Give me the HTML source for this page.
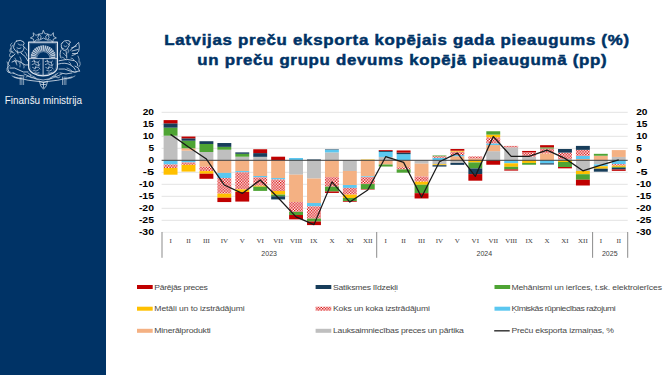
<!DOCTYPE html>
<html><head><meta charset="utf-8">
<style>
html,body{margin:0;padding:0;background:#fff;width:665px;height:375px;overflow:hidden}
svg{display:block}
.ax{font-family:"Liberation Sans",sans-serif;font-weight:bold;font-size:8.4px;fill:#000}
.mo{font-family:"Liberation Serif",serif;font-size:7px;fill:#404040}
.yr{font-family:"Liberation Sans",sans-serif;font-size:7px;fill:#404040}
.lg{font-family:"Liberation Sans",sans-serif;font-size:8px;fill:#474747}
.ti{font-family:"Liberation Sans",sans-serif;font-weight:bold;font-size:15.3px;fill:#003366;stroke:#003366;stroke-width:0.5px}
.fm{font-family:"Liberation Sans",sans-serif;font-size:10px;fill:#F2F5F9}
</style></head><body>
<svg width="665" height="375" viewBox="0 0 665 375">
<defs>
<pattern id="hatch" width="2.8" height="2.8" patternUnits="userSpaceOnUse">
<rect width="2.8" height="2.8" fill="#FFFFFF"/>
<rect x="0" y="0" width="1.4" height="1.4" fill="#DA1010"/>
<rect x="1.4" y="1.4" width="1.4" height="1.4" fill="#DA1010"/>
</pattern>
</defs>
<rect x="0" y="0" width="106" height="375" fill="#003366"/>
<g>
<polygon points="33.46,33.06 35.88,35.27 39.05,34.45 37.69,37.43 39.46,40.20 36.20,39.83 34.11,42.35 33.46,39.14 30.41,37.94 33.26,36.33" fill="none" stroke="#DDE5EF" stroke-linecap="round" stroke-linejoin="round" stroke-width="0.7"/>
<polygon points="43.40,30.60 44.81,33.66 48.16,34.05 45.68,36.34 46.34,39.65 43.40,38.00 40.46,39.65 41.12,36.34 38.64,34.05 41.99,33.66" fill="none" stroke="#DDE5EF" stroke-linecap="round" stroke-linejoin="round" stroke-width="0.7"/>
<polygon points="53.34,33.06 53.54,36.33 56.39,37.94 53.34,39.14 52.69,42.35 50.60,39.83 47.34,40.20 49.11,37.43 47.75,34.45 50.92,35.27" fill="none" stroke="#DDE5EF" stroke-linecap="round" stroke-linejoin="round" stroke-width="0.7"/>
<path d="M28.6,42.2 L57.4,42.2 L57.4,66.5 C57.4,72 50.5,75.8 43,75.8 C35.5,75.8 28.6,72 28.6,66.5 Z" fill="none" stroke="#DDE5EF" stroke-linecap="round" stroke-linejoin="round" stroke-width="1.25"/>
<path d="M30.0,43.6 L56.0,43.6 L56.0,66.5 C56.0,71 50,74.4 43,74.4 C36,74.4 30.0,71 30.0,66.5 Z" fill="none" stroke="#DDE5EF" stroke-linecap="round" stroke-linejoin="round" stroke-width="0.4" opacity="0.6"/>
<path d="M28.6,58.6 L57.4,58.6 M43.1,58.6 L43.1,75.5" fill="none" stroke="#DDE5EF" stroke-linecap="round" stroke-linejoin="round" stroke-width="0.8"/>
<polygon points="36.10,58.14 30.80,58.01 30.80,56.20 36.19,57.13" fill="#DDE5EF" opacity="0.85"/>
<polygon points="36.25,56.82 30.80,55.63 31.08,53.87 36.53,55.85" fill="#DDE5EF" opacity="0.85"/>
<polygon points="36.65,55.55 31.28,53.34 32.10,51.70 37.10,54.65" fill="#DDE5EF" opacity="0.85"/>
<polygon points="37.26,54.37 32.40,51.21 33.50,49.76 37.87,53.57" fill="#DDE5EF" opacity="0.85"/>
<polygon points="38.09,53.33 33.89,49.33 35.24,48.10 38.83,52.65" fill="#DDE5EF" opacity="0.85"/>
<polygon points="39.09,52.46 35.70,47.75 37.25,46.79 39.95,51.93" fill="#DDE5EF" opacity="0.85"/>
<polygon points="40.23,51.79 37.76,46.54 39.47,45.88 41.18,51.42" fill="#DDE5EF" opacity="0.85"/>
<polygon points="41.48,51.33 40.02,45.72 41.81,45.39 42.48,51.15" fill="#DDE5EF" opacity="0.85"/>
<polygon points="42.79,51.12 42.39,45.33 44.21,45.33 43.81,51.12" fill="#DDE5EF" opacity="0.85"/>
<polygon points="44.12,51.15 44.79,45.39 46.58,45.72 45.12,51.33" fill="#DDE5EF" opacity="0.85"/>
<polygon points="45.42,51.42 47.13,45.88 48.84,46.54 46.37,51.79" fill="#DDE5EF" opacity="0.85"/>
<polygon points="46.65,51.93 49.35,46.79 50.90,47.75 47.51,52.46" fill="#DDE5EF" opacity="0.85"/>
<polygon points="47.77,52.65 51.36,48.10 52.71,49.33 48.51,53.33" fill="#DDE5EF" opacity="0.85"/>
<polygon points="48.73,53.57 53.10,49.76 54.20,51.21 49.34,54.37" fill="#DDE5EF" opacity="0.85"/>
<polygon points="49.50,54.65 54.50,51.70 55.30,53.34 49.95,55.55" fill="#DDE5EF" opacity="0.85"/>
<polygon points="50.07,55.85 55.30,53.87 55.30,55.63 50.35,56.82" fill="#DDE5EF" opacity="0.85"/>
<polygon points="50.41,57.13 55.30,56.20 55.30,58.01 50.50,58.14" fill="#DDE5EF" opacity="0.85"/>
<path d="M36.6,58.3 A6.7,6.7 0 0 1 50,58.3" fill="none" stroke="#DDE5EF" stroke-linecap="round" stroke-linejoin="round" stroke-width="0.5"/>
<path d="M32,61.5 q2,-1.5 4,0.5 q2,1.5 3.5,-1 M32,64.5 q2.5,-2 5,0.5 q1.5,1.5 3,-0.5 M32.5,67.5 q2,1.8 4,0 q2,-1.8 3.5,1.5 M33.5,70.5 q2.5,1.8 5,-0.5 M35,73 q2,0.8 4,-0.3 M34,60 l1,3 M38,62 l1,4 M36,66 l-1,3" fill="none" stroke="#DDE5EF" stroke-linecap="round" stroke-linejoin="round" stroke-width="0.65"/>
<path d="M45.2,61.5 q2,-1.5 4,0.5 q2,1.5 3.5,-1 M45.2,64.5 q2.5,-2 5,0.5 q1.5,1.5 3,-0.5 M45.7,67.5 q2,1.8 4,0 q2,-1.8 3.5,1.5 M46.7,70.5 q2.5,1.8 5,-0.5 M48.2,73 q2,0.8 4,-0.3 M47.2,60 l1,3 M51.2,62 l1,4 M49.2,66 l-1,3" fill="none" stroke="#DDE5EF" stroke-linecap="round" stroke-linejoin="round" stroke-width="0.65"/>
<path d="M16.5,41 q4,-1.8 7,0.8 q1.5,2 -0.5,3.5 q2,2 0.5,4.5 q-1,3 -4,2.5 q-3,0.5 -4.5,-2 q-2.5,-2.5 -1,-5 q0.5,-3 2.5,-4.3 z" fill="none" stroke="#DDE5EF" stroke-linecap="round" stroke-linejoin="round" stroke-width="0.8"/>
<path d="M13,45 q-3,2 -2,6 q1,2 3,2 M18,44 q2,2 4,1 M17,48 q2,1.5 4,0 M17,50 l1,4" fill="none" stroke="#DDE5EF" stroke-linecap="round" stroke-linejoin="round" stroke-width="0.65"/>
<path d="M15,54 Q9,58 8,64 Q7,70 10,73 M21,53 q5,3 7,8 M12,62 q5,-3 10,1 q3,3 6,2 M10,68 q5,-1 9,2 q4,3 9,2 M13,73 q5,3 11,3" fill="none" stroke="#DDE5EF" stroke-linecap="round" stroke-linejoin="round" stroke-width="0.8"/>
<path d="M9,66 q-3,2 -2,5 q1,2 3,1 M15,58 q2,2 1,5 M20,57 q2,3 1,6 M23,64 q2,2 1,4" fill="none" stroke="#DDE5EF" stroke-linecap="round" stroke-linejoin="round" stroke-width="0.6"/>
<path d="M62,43 q2,-3 5.5,-2.5 q2.5,0 3,2 l-1.5,1 q1,2 -1,4 q-1,3 -4,3 q-2.5,-1 -2.5,-4 q-1,-2 0.5,-3.5 z" fill="none" stroke="#DDE5EF" stroke-linecap="round" stroke-linejoin="round" stroke-width="0.8"/>
<path d="M70,50.5 Q74,47 78.7,42.4 Q80,47 78.7,51.4 Q76,55 72,55.6 M71.5,48 l5,-2 M72,51 l6,-1.5 M72.5,53.5 l5,0" fill="none" stroke="#DDE5EF" stroke-linecap="round" stroke-linejoin="round" stroke-width="0.75"/>
<path d="M61,50 Q59,55 61,58 M66,51 q1,4 0.8,7 M59,60.7 Q67,58 74.5,60.7 Q78,62 77.9,65.9 M58.5,64 q7,-2 12,1 q4,2 5,5 M59,69 q6,-1 11,2 q4,2 9.6,0 M60,73 q6,2 12,0 M75,66 q4,1 4.6,5" fill="none" stroke="#DDE5EF" stroke-linecap="round" stroke-linejoin="round" stroke-width="0.8"/>
<path d="M64,46 q1.5,1.5 3,0 M63,53 q2,1 3,3 M69,62 q2,1 2,3" fill="none" stroke="#DDE5EF" stroke-linecap="round" stroke-linejoin="round" stroke-width="0.6"/>
<path d="M14,77 Q28,81 43.1,82 Q58,81 72,77" fill="none" stroke="#DDE5EF" stroke-linecap="round" stroke-linejoin="round" stroke-width="0.8"/>
<path d="M24,74 Q34,79.5 43.1,80 Q52,79.5 62,74" fill="none" stroke="#DDE5EF" stroke-linecap="round" stroke-linejoin="round" stroke-width="0.7"/>
<path d="M26,77 q2,-2 4,0 q2,2 4,0 M52,77 q2,-2 4,0 q2,2 4,0 M28,73 q2,1 3,3 M58,73 q-2,1 -3,3" fill="none" stroke="#DDE5EF" stroke-linecap="round" stroke-linejoin="round" stroke-width="0.65"/>
<path d="M20.2,77 L20.2,84.6 M21.9,77 L21.9,84.6 M23.6,77 L23.6,84.6 M62.5,77 L62.5,84.6 M64.2,77 L64.2,84.6 M65.9,77 L65.9,84.6" fill="none" stroke="#DDE5EF" stroke-linecap="round" stroke-linejoin="round" stroke-width="0.6"/>
<path d="M39.5,81.5 Q43.5,84 47.5,81.5 Q47,86.5 43.5,89.2 Q40,86.5 39.5,81.5 Z M41.5,84.5 l4,0 M43.5,82.5 l0,5" fill="none" stroke="#DDE5EF" stroke-linecap="round" stroke-linejoin="round" stroke-width="0.75"/>
<path d="M11,48 q-2,2 -1,4 q2,1 3,-1 M10.5,53 q-2,2 -0.5,4 q2,0.5 2.5,-1.5 M12,43 q-2,1 -1.5,3 M24,47 q2,1 3,3 M25,52 q2,2 2,4 M14,60 q3,2 3,5 M19,62 q2,2 1,5 M7,62 q1,3 3,4 M8,72 q3,2 6,1" fill="none" stroke="#DDE5EF" stroke-linecap="round" stroke-linejoin="round" stroke-width="0.6"/>
<path d="M66,42 q2,1 3,3 M61,47 q1,2 3,2 M68,49 q1,2 0,4 M62,57 q3,1 4,3 M71,58 q2,0 3,2 M78,56 q2,3 1,6 M80,62 q1,3 -1,5 M67,68 q3,1 5,3 M73,72 q2,1 4,0" fill="none" stroke="#DDE5EF" stroke-linecap="round" stroke-linejoin="round" stroke-width="0.6"/>
<path d="M12,76 q4,3 9,3 M66,79 q5,0 9,-3 M30,74 q3,3 6,4 M56,74 q-3,3 -6,4 M34,78 q3,2 5,2 M52,78 q-3,2 -5,2" fill="none" stroke="#DDE5EF" stroke-linecap="round" stroke-linejoin="round" stroke-width="0.6"/>
</g>
<text x="4.8" y="103.6" class="fm" textLength="77.3" lengthAdjust="spacingAndGlyphs">Finanšu ministrija</text>
<g transform="translate(164.2,45.2) scale(1.1,1)"><text x="0" y="0" class="ti" textLength="422.55" lengthAdjust="spacing">Latvijas preču eksporta kopējais gada pieaugums (%)</text></g>
<g transform="translate(197.3,64.6) scale(1.1,1)"><text x="0" y="0" class="ti" textLength="372.09" lengthAdjust="spacing">un preču grupu devums kopējā pieaugumā (pp)</text></g>
<rect x="161.60" y="111.80" width="466.10" height="1" fill="#E3E3E3"/>
<rect x="161.60" y="123.80" width="466.10" height="1" fill="#E3E3E3"/>
<rect x="161.60" y="135.80" width="466.10" height="1" fill="#E3E3E3"/>
<rect x="161.60" y="147.80" width="466.10" height="1" fill="#E3E3E3"/>
<rect x="161.60" y="171.80" width="466.10" height="1" fill="#E3E3E3"/>
<rect x="161.60" y="183.80" width="466.10" height="1" fill="#E3E3E3"/>
<rect x="161.60" y="195.80" width="466.10" height="1" fill="#E3E3E3"/>
<rect x="161.60" y="207.80" width="466.10" height="1" fill="#E3E3E3"/>
<rect x="161.60" y="219.80" width="466.10" height="1" fill="#E3E3E3"/>
<rect x="161.60" y="231.80" width="466.10" height="1" fill="#EEEEEE"/>
<rect x="163.61" y="135.70" width="13.90" height="24.60" fill="#BFBFBF"/>
<rect x="163.61" y="160.30" width="13.90" height="4.20" fill="#5BC7F0"/>
<rect x="163.61" y="164.50" width="13.90" height="3.48" fill="url(#hatch)"/>
<rect x="163.61" y="167.98" width="13.90" height="6.72" fill="#FFC000"/>
<rect x="163.61" y="127.66" width="13.90" height="8.04" fill="#4EA434"/>
<rect x="163.61" y="123.34" width="13.90" height="4.32" fill="#173D5A"/>
<rect x="163.61" y="120.10" width="13.90" height="3.24" fill="#C00000"/>
<rect x="181.54" y="150.70" width="13.90" height="9.60" fill="#BFBFBF"/>
<rect x="181.54" y="148.30" width="13.90" height="2.40" fill="#F4B183"/>
<rect x="181.54" y="160.30" width="13.90" height="2.16" fill="#5BC7F0"/>
<rect x="181.54" y="162.46" width="13.90" height="2.40" fill="url(#hatch)"/>
<rect x="181.54" y="164.86" width="13.90" height="6.72" fill="#FFC000"/>
<rect x="181.54" y="140.74" width="13.90" height="7.56" fill="#4EA434"/>
<rect x="181.54" y="138.34" width="13.90" height="2.40" fill="#173D5A"/>
<rect x="181.54" y="136.54" width="13.90" height="1.80" fill="#C00000"/>
<rect x="199.47" y="152.02" width="13.90" height="8.28" fill="#BFBFBF"/>
<rect x="199.47" y="160.30" width="13.90" height="6.48" fill="#F4B183"/>
<rect x="199.47" y="166.78" width="13.90" height="4.32" fill="url(#hatch)"/>
<rect x="199.47" y="171.10" width="13.90" height="2.64" fill="#FFC000"/>
<rect x="199.47" y="143.98" width="13.90" height="8.04" fill="#4EA434"/>
<rect x="199.47" y="141.22" width="13.90" height="2.76" fill="#173D5A"/>
<rect x="199.47" y="173.74" width="13.90" height="5.04" fill="#C00000"/>
<rect x="217.39" y="149.74" width="13.90" height="10.56" fill="#BFBFBF"/>
<rect x="217.39" y="160.30" width="13.90" height="12.60" fill="#F4B183"/>
<rect x="217.39" y="172.90" width="13.90" height="5.16" fill="#5BC7F0"/>
<rect x="217.39" y="178.06" width="13.90" height="15.60" fill="url(#hatch)"/>
<rect x="217.39" y="193.66" width="13.90" height="4.08" fill="#FFC000"/>
<rect x="217.39" y="146.86" width="13.90" height="2.88" fill="#4EA434"/>
<rect x="217.39" y="143.02" width="13.90" height="3.84" fill="#173D5A"/>
<rect x="217.39" y="197.74" width="13.90" height="4.32" fill="#C00000"/>
<rect x="235.32" y="156.70" width="13.90" height="3.60" fill="#BFBFBF"/>
<rect x="235.32" y="160.30" width="13.90" height="10.80" fill="#F4B183"/>
<rect x="235.32" y="171.10" width="13.90" height="1.20" fill="#5BC7F0"/>
<rect x="235.32" y="172.30" width="13.90" height="17.04" fill="url(#hatch)"/>
<rect x="235.32" y="189.34" width="13.90" height="2.64" fill="#FFC000"/>
<rect x="235.32" y="153.82" width="13.90" height="2.88" fill="#4EA434"/>
<rect x="235.32" y="152.38" width="13.90" height="1.44" fill="#173D5A"/>
<rect x="235.32" y="191.98" width="13.90" height="9.60" fill="#C00000"/>
<rect x="253.25" y="156.82" width="13.90" height="3.48" fill="#BFBFBF"/>
<rect x="253.25" y="160.30" width="13.90" height="15.72" fill="#F4B183"/>
<rect x="253.25" y="176.02" width="13.90" height="1.32" fill="#5BC7F0"/>
<rect x="253.25" y="177.34" width="13.90" height="8.40" fill="url(#hatch)"/>
<rect x="253.25" y="185.74" width="13.90" height="0.96" fill="#FFC000"/>
<rect x="253.25" y="186.70" width="13.90" height="4.20" fill="#4EA434"/>
<rect x="253.25" y="153.10" width="13.90" height="3.72" fill="#173D5A"/>
<rect x="253.25" y="149.26" width="13.90" height="3.84" fill="#C00000"/>
<rect x="271.18" y="160.30" width="13.90" height="17.76" fill="#F4B183"/>
<rect x="271.18" y="178.06" width="13.90" height="1.44" fill="#5BC7F0"/>
<rect x="271.18" y="179.50" width="13.90" height="11.52" fill="url(#hatch)"/>
<rect x="271.18" y="191.02" width="13.90" height="3.60" fill="#FFC000"/>
<rect x="271.18" y="194.62" width="13.90" height="1.68" fill="#4EA434"/>
<rect x="271.18" y="196.30" width="13.90" height="3.12" fill="#173D5A"/>
<rect x="271.18" y="156.70" width="13.90" height="3.60" fill="#C00000"/>
<rect x="289.10" y="160.30" width="13.90" height="14.40" fill="#BFBFBF"/>
<rect x="289.10" y="174.70" width="13.90" height="27.36" fill="#F4B183"/>
<rect x="289.10" y="158.02" width="13.90" height="2.28" fill="#5BC7F0"/>
<rect x="289.10" y="202.06" width="13.90" height="9.84" fill="url(#hatch)"/>
<rect x="289.10" y="211.90" width="13.90" height="3.12" fill="#4EA434"/>
<rect x="289.10" y="215.02" width="13.90" height="4.32" fill="#C00000"/>
<rect x="307.03" y="160.30" width="13.90" height="18.24" fill="#BFBFBF"/>
<rect x="307.03" y="178.54" width="13.90" height="24.48" fill="#F4B183"/>
<rect x="307.03" y="203.02" width="13.90" height="3.36" fill="#5BC7F0"/>
<rect x="307.03" y="206.38" width="13.90" height="12.24" fill="url(#hatch)"/>
<rect x="307.03" y="218.62" width="13.90" height="2.88" fill="#4EA434"/>
<rect x="307.03" y="159.46" width="13.90" height="0.84" fill="#173D5A"/>
<rect x="307.03" y="221.50" width="13.90" height="3.60" fill="#C00000"/>
<rect x="324.96" y="152.38" width="13.90" height="7.92" fill="#BFBFBF"/>
<rect x="324.96" y="160.30" width="13.90" height="16.80" fill="#F4B183"/>
<rect x="324.96" y="149.74" width="13.90" height="2.64" fill="#5BC7F0"/>
<rect x="324.96" y="177.10" width="13.90" height="9.60" fill="url(#hatch)"/>
<rect x="324.96" y="186.70" width="13.90" height="4.80" fill="#4EA434"/>
<rect x="324.96" y="149.26" width="13.90" height="0.48" fill="#173D5A"/>
<rect x="324.96" y="191.50" width="13.90" height="1.44" fill="#C00000"/>
<rect x="342.88" y="160.30" width="13.90" height="10.68" fill="#BFBFBF"/>
<rect x="342.88" y="170.98" width="13.90" height="14.04" fill="#F4B183"/>
<rect x="342.88" y="185.02" width="13.90" height="2.88" fill="#5BC7F0"/>
<rect x="342.88" y="187.90" width="13.90" height="6.72" fill="url(#hatch)"/>
<rect x="342.88" y="194.62" width="13.90" height="3.36" fill="#FFC000"/>
<rect x="342.88" y="197.98" width="13.90" height="3.12" fill="#4EA434"/>
<rect x="342.88" y="201.10" width="13.90" height="0.72" fill="#C00000"/>
<rect x="360.81" y="160.30" width="13.90" height="16.08" fill="#F4B183"/>
<rect x="360.81" y="176.38" width="13.90" height="0.72" fill="#5BC7F0"/>
<rect x="360.81" y="177.10" width="13.90" height="6.96" fill="url(#hatch)"/>
<rect x="360.81" y="159.58" width="13.90" height="0.72" fill="#FFC000"/>
<rect x="360.81" y="184.06" width="13.90" height="5.04" fill="#4EA434"/>
<rect x="360.81" y="189.10" width="13.90" height="0.48" fill="#C00000"/>
<rect x="378.74" y="156.94" width="13.90" height="3.36" fill="#BFBFBF"/>
<rect x="378.74" y="160.30" width="13.90" height="4.20" fill="#F4B183"/>
<rect x="378.74" y="151.90" width="13.90" height="5.04" fill="#5BC7F0"/>
<rect x="378.74" y="164.50" width="13.90" height="2.04" fill="#4EA434"/>
<rect x="378.74" y="150.94" width="13.90" height="0.96" fill="#173D5A"/>
<rect x="378.74" y="150.10" width="13.90" height="0.84" fill="#C00000"/>
<rect x="396.66" y="160.30" width="13.90" height="6.96" fill="#F4B183"/>
<rect x="396.66" y="154.18" width="13.90" height="6.12" fill="#5BC7F0"/>
<rect x="396.66" y="167.26" width="13.90" height="2.16" fill="url(#hatch)"/>
<rect x="396.66" y="169.42" width="13.90" height="3.24" fill="#4EA434"/>
<rect x="396.66" y="152.62" width="13.90" height="1.56" fill="#173D5A"/>
<rect x="396.66" y="150.46" width="13.90" height="2.16" fill="#C00000"/>
<rect x="414.59" y="160.30" width="13.90" height="3.36" fill="#BFBFBF"/>
<rect x="414.59" y="163.66" width="13.90" height="12.84" fill="#F4B183"/>
<rect x="414.59" y="176.50" width="13.90" height="5.16" fill="url(#hatch)"/>
<rect x="414.59" y="181.66" width="13.90" height="3.12" fill="#FFC000"/>
<rect x="414.59" y="184.78" width="13.90" height="8.40" fill="#4EA434"/>
<rect x="414.59" y="193.18" width="13.90" height="5.28" fill="#C00000"/>
<rect x="432.52" y="160.30" width="13.90" height="3.96" fill="#BFBFBF"/>
<rect x="432.52" y="157.78" width="13.90" height="2.52" fill="#5BC7F0"/>
<rect x="432.52" y="156.22" width="13.90" height="1.56" fill="url(#hatch)"/>
<rect x="432.52" y="164.26" width="13.90" height="0.96" fill="#FFC000"/>
<rect x="432.52" y="155.50" width="13.90" height="0.72" fill="#4EA434"/>
<rect x="432.52" y="165.22" width="13.90" height="1.32" fill="#173D5A"/>
<rect x="450.44" y="160.30" width="13.90" height="2.64" fill="#BFBFBF"/>
<rect x="450.44" y="156.22" width="13.90" height="4.08" fill="#F4B183"/>
<rect x="450.44" y="155.02" width="13.90" height="1.20" fill="#5BC7F0"/>
<rect x="450.44" y="151.54" width="13.90" height="3.48" fill="url(#hatch)"/>
<rect x="450.44" y="150.70" width="13.90" height="0.84" fill="#FFC000"/>
<rect x="450.44" y="162.94" width="13.90" height="1.92" fill="#173D5A"/>
<rect x="450.44" y="149.02" width="13.90" height="1.68" fill="#C00000"/>
<rect x="468.37" y="158.50" width="13.90" height="1.80" fill="#F4B183"/>
<rect x="468.37" y="156.46" width="13.90" height="2.04" fill="url(#hatch)"/>
<rect x="468.37" y="160.30" width="13.90" height="2.16" fill="#FFC000"/>
<rect x="468.37" y="162.46" width="13.90" height="6.00" fill="#4EA434"/>
<rect x="468.37" y="168.46" width="13.90" height="5.64" fill="#173D5A"/>
<rect x="468.37" y="174.10" width="13.90" height="6.60" fill="#C00000"/>
<rect x="486.30" y="151.18" width="13.90" height="9.12" fill="#BFBFBF"/>
<rect x="486.30" y="145.06" width="13.90" height="6.12" fill="#F4B183"/>
<rect x="486.30" y="143.38" width="13.90" height="1.68" fill="#5BC7F0"/>
<rect x="486.30" y="137.26" width="13.90" height="6.12" fill="url(#hatch)"/>
<rect x="486.30" y="134.62" width="13.90" height="2.64" fill="#FFC000"/>
<rect x="486.30" y="131.26" width="13.90" height="3.36" fill="#4EA434"/>
<rect x="486.30" y="160.30" width="13.90" height="4.44" fill="#C00000"/>
<rect x="504.23" y="147.34" width="13.90" height="12.96" fill="#BFBFBF"/>
<rect x="504.23" y="160.30" width="13.90" height="3.00" fill="#5BC7F0"/>
<rect x="504.23" y="145.90" width="13.90" height="1.44" fill="url(#hatch)"/>
<rect x="504.23" y="163.30" width="13.90" height="3.48" fill="#FFC000"/>
<rect x="504.23" y="166.78" width="13.90" height="2.64" fill="#4EA434"/>
<rect x="504.23" y="169.42" width="13.90" height="1.20" fill="#C00000"/>
<rect x="522.15" y="156.58" width="13.90" height="3.72" fill="#BFBFBF"/>
<rect x="522.15" y="152.38" width="13.90" height="4.20" fill="url(#hatch)"/>
<rect x="522.15" y="160.30" width="13.90" height="2.64" fill="#FFC000"/>
<rect x="522.15" y="162.94" width="13.90" height="1.80" fill="#4EA434"/>
<rect x="522.15" y="150.94" width="13.90" height="1.44" fill="#C00000"/>
<rect x="540.08" y="153.34" width="13.90" height="6.96" fill="#F4B183"/>
<rect x="540.08" y="160.30" width="13.90" height="3.00" fill="#5BC7F0"/>
<rect x="540.08" y="148.54" width="13.90" height="4.80" fill="url(#hatch)"/>
<rect x="540.08" y="147.34" width="13.90" height="1.20" fill="#4EA434"/>
<rect x="540.08" y="163.30" width="13.90" height="1.20" fill="#173D5A"/>
<rect x="540.08" y="145.18" width="13.90" height="2.16" fill="#C00000"/>
<rect x="558.01" y="158.98" width="13.90" height="1.32" fill="#BFBFBF"/>
<rect x="558.01" y="152.62" width="13.90" height="6.36" fill="url(#hatch)"/>
<rect x="558.01" y="160.30" width="13.90" height="1.68" fill="#FFC000"/>
<rect x="558.01" y="161.98" width="13.90" height="5.04" fill="#4EA434"/>
<rect x="558.01" y="149.02" width="13.90" height="3.60" fill="#173D5A"/>
<rect x="558.01" y="167.02" width="13.90" height="1.32" fill="#C00000"/>
<rect x="575.93" y="160.30" width="13.90" height="10.68" fill="#BFBFBF"/>
<rect x="575.93" y="158.98" width="13.90" height="1.32" fill="#F4B183"/>
<rect x="575.93" y="155.86" width="13.90" height="3.12" fill="#5BC7F0"/>
<rect x="575.93" y="149.86" width="13.90" height="6.00" fill="url(#hatch)"/>
<rect x="575.93" y="170.98" width="13.90" height="3.24" fill="#FFC000"/>
<rect x="575.93" y="174.22" width="13.90" height="5.52" fill="#4EA434"/>
<rect x="575.93" y="145.90" width="13.90" height="3.96" fill="#173D5A"/>
<rect x="575.93" y="179.74" width="13.90" height="5.76" fill="#C00000"/>
<rect x="593.86" y="160.30" width="13.90" height="4.08" fill="#BFBFBF"/>
<rect x="593.86" y="155.74" width="13.90" height="4.56" fill="#F4B183"/>
<rect x="593.86" y="164.38" width="13.90" height="1.92" fill="#5BC7F0"/>
<rect x="593.86" y="166.30" width="13.90" height="2.40" fill="#FFC000"/>
<rect x="593.86" y="153.82" width="13.90" height="1.92" fill="#4EA434"/>
<rect x="593.86" y="168.70" width="13.90" height="3.00" fill="#173D5A"/>
<rect x="611.79" y="156.94" width="13.90" height="3.36" fill="#BFBFBF"/>
<rect x="611.79" y="150.10" width="13.90" height="6.84" fill="#F4B183"/>
<rect x="611.79" y="160.30" width="13.90" height="3.84" fill="#5BC7F0"/>
<rect x="611.79" y="164.14" width="13.90" height="1.56" fill="url(#hatch)"/>
<rect x="611.79" y="165.70" width="13.90" height="1.20" fill="#FFC000"/>
<rect x="611.79" y="166.90" width="13.90" height="0.84" fill="#4EA434"/>
<rect x="611.79" y="167.74" width="13.90" height="1.68" fill="#173D5A"/>
<rect x="611.79" y="169.42" width="13.90" height="1.44" fill="#C00000"/>
<rect x="161.60" y="159.80" width="466.10" height="1" fill="#404040"/>
<polyline points="170.56,134.38 188.49,147.10 206.42,159.10 224.34,185.02 242.27,193.42 260.20,179.98 278.12,197.74 296.05,216.94 313.98,224.62 331.91,181.90 349.83,202.06 367.76,190.06 385.69,156.70 403.61,162.34 421.54,197.26 439.47,161.74 457.39,153.10 475.32,176.38 493.25,136.54 511.18,156.34 529.10,156.46 547.03,150.10 564.96,158.38 582.88,170.86 600.81,165.10 618.74,159.82" fill="none" stroke="#1A1A1A" stroke-width="1.25" stroke-linejoin="round"/>
<rect x="161.50" y="232" width="1" height="25.8" fill="#8C8C8C"/>
<rect x="376.20" y="232" width="1" height="25.8" fill="#8C8C8C"/>
<rect x="592.10" y="232" width="1" height="25.8" fill="#8C8C8C"/>
<rect x="627.20" y="232" width="1" height="25.8" fill="#8C8C8C"/>
<text x="154" y="115.30" text-anchor="end" class="ax" textLength="11.3" lengthAdjust="spacingAndGlyphs">20</text>
<text x="636.2" y="115.30" class="ax" textLength="11.3" lengthAdjust="spacingAndGlyphs">20</text>
<text x="154" y="127.30" text-anchor="end" class="ax" textLength="11.3" lengthAdjust="spacingAndGlyphs">15</text>
<text x="636.2" y="127.30" class="ax" textLength="11.3" lengthAdjust="spacingAndGlyphs">15</text>
<text x="154" y="139.30" text-anchor="end" class="ax" textLength="11.3" lengthAdjust="spacingAndGlyphs">10</text>
<text x="636.2" y="139.30" class="ax" textLength="11.3" lengthAdjust="spacingAndGlyphs">10</text>
<text x="154" y="151.30" text-anchor="end" class="ax" textLength="5.6" lengthAdjust="spacingAndGlyphs">5</text>
<text x="636.2" y="151.30" class="ax" textLength="5.6" lengthAdjust="spacingAndGlyphs">5</text>
<text x="154" y="163.30" text-anchor="end" class="ax" textLength="5.6" lengthAdjust="spacingAndGlyphs">0</text>
<text x="636.2" y="163.30" class="ax" textLength="5.6" lengthAdjust="spacingAndGlyphs">0</text>
<text x="154" y="175.30" text-anchor="end" class="ax" textLength="11.3" lengthAdjust="spacingAndGlyphs">-5</text>
<text x="636.2" y="175.30" class="ax" textLength="11.3" lengthAdjust="spacingAndGlyphs">-5</text>
<text x="154" y="187.30" text-anchor="end" class="ax" textLength="15.1" lengthAdjust="spacingAndGlyphs">-10</text>
<text x="636.2" y="187.30" class="ax" textLength="15.1" lengthAdjust="spacingAndGlyphs">-10</text>
<text x="154" y="199.30" text-anchor="end" class="ax" textLength="15.1" lengthAdjust="spacingAndGlyphs">-15</text>
<text x="636.2" y="199.30" class="ax" textLength="15.1" lengthAdjust="spacingAndGlyphs">-15</text>
<text x="154" y="211.30" text-anchor="end" class="ax" textLength="15.1" lengthAdjust="spacingAndGlyphs">-20</text>
<text x="636.2" y="211.30" class="ax" textLength="15.1" lengthAdjust="spacingAndGlyphs">-20</text>
<text x="154" y="223.30" text-anchor="end" class="ax" textLength="15.1" lengthAdjust="spacingAndGlyphs">-25</text>
<text x="636.2" y="223.30" class="ax" textLength="15.1" lengthAdjust="spacingAndGlyphs">-25</text>
<text x="154" y="235.30" text-anchor="end" class="ax" textLength="15.1" lengthAdjust="spacingAndGlyphs">-30</text>
<text x="636.2" y="235.30" class="ax" textLength="15.1" lengthAdjust="spacingAndGlyphs">-30</text>
<text x="170.56" y="243.3" text-anchor="middle" class="mo">I</text>
<text x="188.49" y="243.3" text-anchor="middle" class="mo">II</text>
<text x="206.42" y="243.3" text-anchor="middle" class="mo">III</text>
<text x="224.34" y="243.3" text-anchor="middle" class="mo">IV</text>
<text x="242.27" y="243.3" text-anchor="middle" class="mo">V</text>
<text x="260.20" y="243.3" text-anchor="middle" class="mo">VI</text>
<text x="278.12" y="243.3" text-anchor="middle" class="mo">VII</text>
<text x="296.05" y="243.3" text-anchor="middle" class="mo">VIII</text>
<text x="313.98" y="243.3" text-anchor="middle" class="mo">IX</text>
<text x="331.91" y="243.3" text-anchor="middle" class="mo">X</text>
<text x="349.83" y="243.3" text-anchor="middle" class="mo">XI</text>
<text x="367.76" y="243.3" text-anchor="middle" class="mo">XII</text>
<text x="385.69" y="243.3" text-anchor="middle" class="mo">I</text>
<text x="403.61" y="243.3" text-anchor="middle" class="mo">II</text>
<text x="421.54" y="243.3" text-anchor="middle" class="mo">III</text>
<text x="439.47" y="243.3" text-anchor="middle" class="mo">IV</text>
<text x="457.39" y="243.3" text-anchor="middle" class="mo">V</text>
<text x="475.32" y="243.3" text-anchor="middle" class="mo">VI</text>
<text x="493.25" y="243.3" text-anchor="middle" class="mo">VII</text>
<text x="511.18" y="243.3" text-anchor="middle" class="mo">VIII</text>
<text x="529.10" y="243.3" text-anchor="middle" class="mo">IX</text>
<text x="547.03" y="243.3" text-anchor="middle" class="mo">X</text>
<text x="564.96" y="243.3" text-anchor="middle" class="mo">XI</text>
<text x="582.88" y="243.3" text-anchor="middle" class="mo">XII</text>
<text x="600.81" y="243.3" text-anchor="middle" class="mo">I</text>
<text x="618.74" y="243.3" text-anchor="middle" class="mo">II</text>
<text x="269.16" y="256" text-anchor="middle" class="yr">2023</text>
<text x="484.28" y="256" text-anchor="middle" class="yr">2024</text>
<text x="609.77" y="256" text-anchor="middle" class="yr">2025</text>
<rect x="137" y="285" width="15.7" height="4" fill="#C00000"/>
<g transform="translate(154.3,289.5) scale(1.08,1)"><text x="0" y="0" class="lg" textLength="49.54" lengthAdjust="spacing">Pārējās preces</text></g>
<rect x="315.6" y="285" width="15.7" height="4" fill="#173D5A"/>
<g transform="translate(333,289.5) scale(1.08,1)"><text x="0" y="0" class="lg" textLength="60.19" lengthAdjust="spacing">Satiksmes līdzekļi</text></g>
<rect x="494.5" y="285" width="15.7" height="4" fill="#4EA434"/>
<g transform="translate(511.4,289.5) scale(1.08,1)"><text x="0" y="0" class="lg" textLength="139.44" lengthAdjust="spacing">Mehānismi un ierīces, t.sk. elektroierīces</text></g>
<rect x="137" y="306.7" width="15.7" height="4" fill="#FFC000"/>
<g transform="translate(154.3,311.2) scale(1.08,1)"><text x="0" y="0" class="lg" textLength="83.80" lengthAdjust="spacing">Metāli un to izstrādājumi</text></g>
<rect x="315.6" y="306.7" width="15.7" height="4" fill="url(#hatch)"/>
<g transform="translate(333,311.2) scale(1.08,1)"><text x="0" y="0" class="lg" textLength="89.81" lengthAdjust="spacing">Koks un koka izstrādājumi</text></g>
<rect x="494.5" y="306.7" width="15.7" height="4" fill="#5BC7F0"/>
<g transform="translate(511.4,311.2) scale(1.08,1)"><text x="0" y="0" class="lg" textLength="96.57" lengthAdjust="spacing">Ķīmiskās rūpniecības ražojumi</text></g>
<rect x="137" y="328.8" width="15.7" height="4" fill="#F4B183"/>
<g transform="translate(154.3,333.3) scale(1.08,1)"><text x="0" y="0" class="lg" textLength="52.31" lengthAdjust="spacing">Minerālprodukti</text></g>
<rect x="315.6" y="328.8" width="15.7" height="4" fill="#BFBFBF"/>
<g transform="translate(333,333.3) scale(1.08,1)"><text x="0" y="0" class="lg" textLength="121.11" lengthAdjust="spacing">Lauksaimniecības preces un pārtika</text></g>
<rect x="494.2" y="330.05" width="15.5" height="1.5" fill="#3A3A3A"/>
<g transform="translate(511.4,333.3) scale(1.08,1)"><text x="0" y="0" class="lg" textLength="95.00" lengthAdjust="spacing">Preču eksporta izmaiņas, %</text></g>
</svg>
</body></html>
